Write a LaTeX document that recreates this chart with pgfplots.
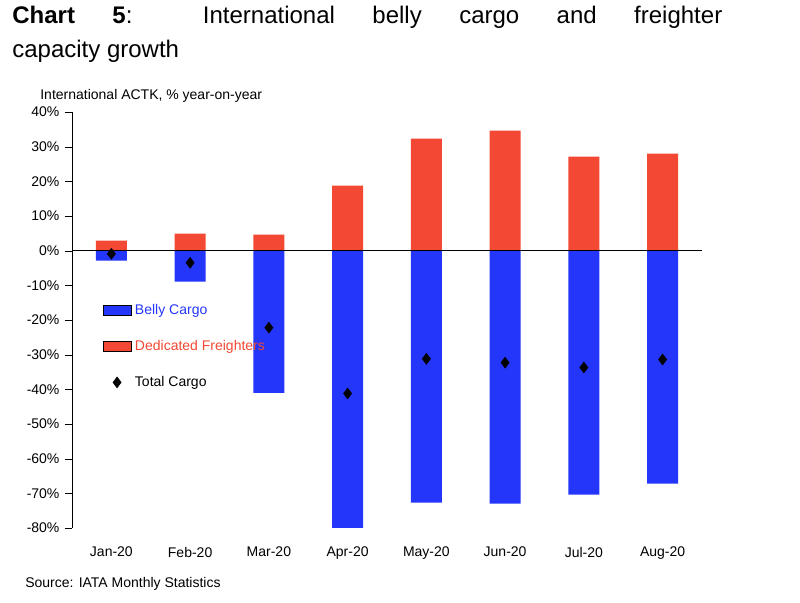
\documentclass[border=0pt]{standalone}
\usepackage{pgfplots}
\pgfplotsset{compat=1.18}
\usepackage{fontspec}
\setmainfont{Liberation Sans}
\definecolor{belly}{HTML}{2436FA}
\definecolor{frt}{HTML}{F34833}
\begin{document}
\begin{tikzpicture}[x=0.6pt,y=0.6pt]
\path[use as bounding box] (-72,-75) rectangle (728,528);
\node[anchor=base west,inner sep=0,font=\fontsize{14.4}{16}\selectfont] at (-60,504) {\makebox[426pt][s]{\textbf{Chart 5}: International belly cargo and freighter}};
\node[anchor=base west,inner sep=0,font=\fontsize{14.4}{16}\selectfont] at (-60,470) {capacity growth};
\node[anchor=base west,inner sep=0,font=\fontsize{8.4}{10}\selectfont] at (-32,428) {International ACTK, \% year-on-year};
\node[anchor=base west,inner sep=0,font=\fontsize{8.4}{10}\selectfont] at (-47,-59) {Source: IATA Monthly Statistics};
\begin{axis}[at={(0,0)},anchor=south west,scale only axis,width=378pt,height=249.6pt,
 xmin=-0.5,xmax=7.5,ymin=-80,ymax=40,
 axis lines*=left, x axis line style={draw=none}, x tick style={draw=none},
 ytick={-80,-70,...,40}, yticklabel={\pgfmathprintnumber{\tick}\%},
 /pgf/number format/assume math mode=true,
 ticklabel style={font=\fontsize{8.4}{10}\selectfont},
 y tick style={black}, tick align=outside, major tick length=4pt,
 xtick={0,...,7}, xticklabels={Jan-20,Feb-20,Mar-20,Apr-20,May-20,Jun-20,Jul-20,Aug-20},
 xticklabel style={yshift=-4pt},
 clip=false,
 legend style={draw=none,fill=none,at={(0.04,0.555)},anchor=north west,font=\fontsize{8.4}{10}\selectfont,row sep=10pt,cells={anchor=west}},
 legend cell align=left]
\addplot[ybar,bar width=18.6pt,bar shift=0pt,fill=belly,draw=none,area legend] coordinates {(0,-2.9)(1,-8.9)(2,-41)(3,-80)(4,-72.7)(5,-73)(6,-70.4)(7,-67.2)};
\addlegendentry{\textcolor{belly}{Belly Cargo}}
\addplot[ybar,bar width=18.6pt,bar shift=0pt,fill=frt,draw=none,area legend] coordinates {(0,2.9)(1,4.9)(2,4.6)(3,18.8)(4,32.3)(5,34.6)(6,27.1)(7,28)};
\addlegendentry{\textcolor{frt}{Dedicated Freighters}}
\addplot[only marks,mark=diamond*,mark size=3.2pt,black] coordinates {(0,-0.9)(1,-3.5)(2,-22.2)(3,-41.2)(4,-31.2)(5,-32.3)(6,-33.7)(7,-31.4)};
\addlegendentry{Total Cargo}
\draw[black,thin] (axis cs:-0.5,0) -- (axis cs:7.5,0);
\end{axis}
\end{tikzpicture}
\end{document}
